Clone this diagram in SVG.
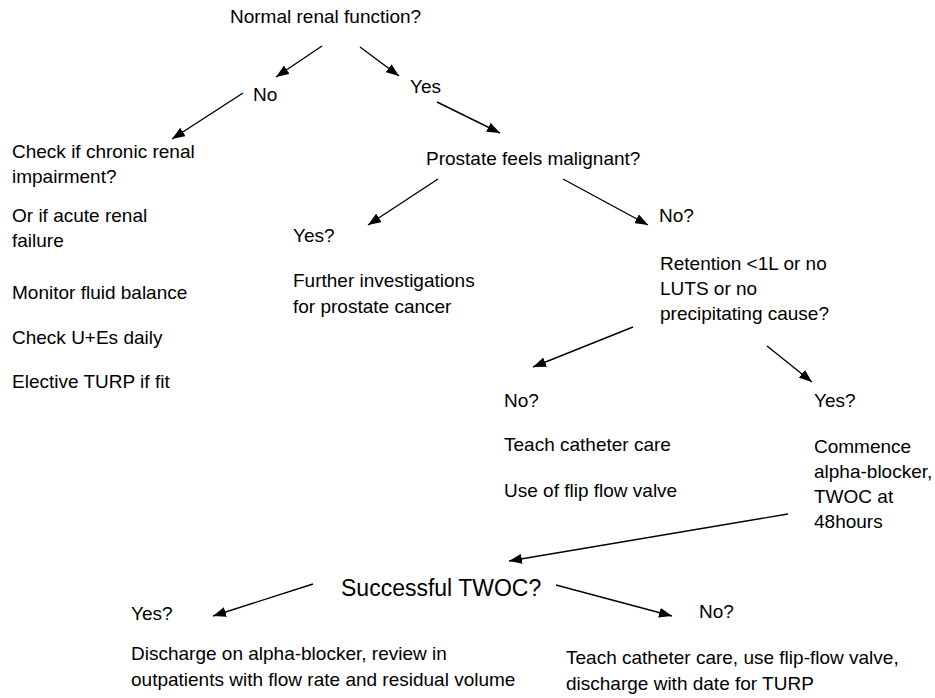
<svg xmlns="http://www.w3.org/2000/svg" width="935" height="698" viewBox="0 0 935 698">
<style>
text{font-family:"Liberation Sans",Arial,sans-serif;font-size:19px;fill:#000}
.big{font-size:23px}
.c line{stroke:#000;stroke-width:1.4;marker-end:url(#ah)}
</style>
<defs>
<marker id="ah" markerUnits="userSpaceOnUse" markerWidth="14" markerHeight="10" refX="13" refY="5" orient="auto">
<path d="M0,0 L13,5 L0,10 z" fill="#000"/>
</marker>
</defs>
<rect width="935" height="698" fill="#fff"/>
<g id="n-renal"><text x="230" y="23">Normal renal function?</text></g>
<g id="n-no1"><text x="253" y="101">No</text></g>
<g id="n-yes1"><text x="410" y="93">Yes</text></g>
<g id="n-chronic">
<text x="12" y="157.5">Check if chronic renal</text>
<text x="12" y="182.5">impairment?</text>
<text x="12" y="221.5">Or if acute renal</text>
<text x="12" y="246.5">failure</text>
<text x="12" y="298.5">Monitor fluid balance</text>
<text x="12" y="343.5">Check U+Es daily</text>
<text x="12" y="387.5">Elective TURP if fit</text>
</g>
<g id="n-prostate"><text x="426" y="165">Prostate feels malignant?</text></g>
<g id="n-yes2">
<text x="293" y="242">Yes?</text>
<text x="293" y="287">Further investigations</text>
<text x="293" y="313">for prostate cancer</text>
</g>
<g id="n-no2"><text x="659" y="222">No?</text></g>
<g id="n-retention">
<text x="660" y="269.5">Retention &lt;1L or no</text>
<text x="660" y="295">LUTS or no</text>
<text x="660" y="320">precipitating cause?</text>
</g>
<g id="n-no3">
<text x="504" y="406.5">No?</text>
<text x="504" y="451">Teach catheter care</text>
<text x="504" y="496.5">Use of flip flow valve</text>
</g>
<g id="n-yes3">
<text x="814" y="406.5">Yes?</text>
<text x="814" y="453">Commence</text>
<text x="814" y="478">alpha-blocker,</text>
<text x="814" y="503">TWOC at</text>
<text x="814" y="528">48hours</text>
</g>
<g id="n-twoc"><text class="big" x="341" y="596">Successful TWOC?</text></g>
<g id="n-yes4">
<text x="131" y="620">Yes?</text>
<text x="131" y="660">Discharge on alpha-blocker, review in</text>
<text x="131" y="686">outpatients with flow rate and residual volume</text>
</g>
<g id="n-no4">
<text x="699" y="618">No?</text>
<text x="566" y="664">Teach catheter care, use flip-flow valve,</text>
<text x="566" y="690">discharge with date for TURP</text>
</g>
<g id="connectors" class="c">
<line x1="322" y1="46" x2="276" y2="77"/>
<line x1="360" y1="47" x2="399" y2="76"/>
<line x1="243" y1="93" x2="172" y2="139"/>
<line x1="437" y1="102" x2="500" y2="133"/>
<line x1="438" y1="179" x2="368" y2="225"/>
<line x1="563" y1="179" x2="648" y2="225"/>
<line x1="633" y1="327" x2="533" y2="367"/>
<line x1="767" y1="346" x2="812" y2="382"/>
<line x1="788" y1="514" x2="509" y2="561"/>
<line x1="313" y1="584" x2="213" y2="616"/>
<line x1="556" y1="585" x2="672" y2="616"/>
</g>
</svg>
